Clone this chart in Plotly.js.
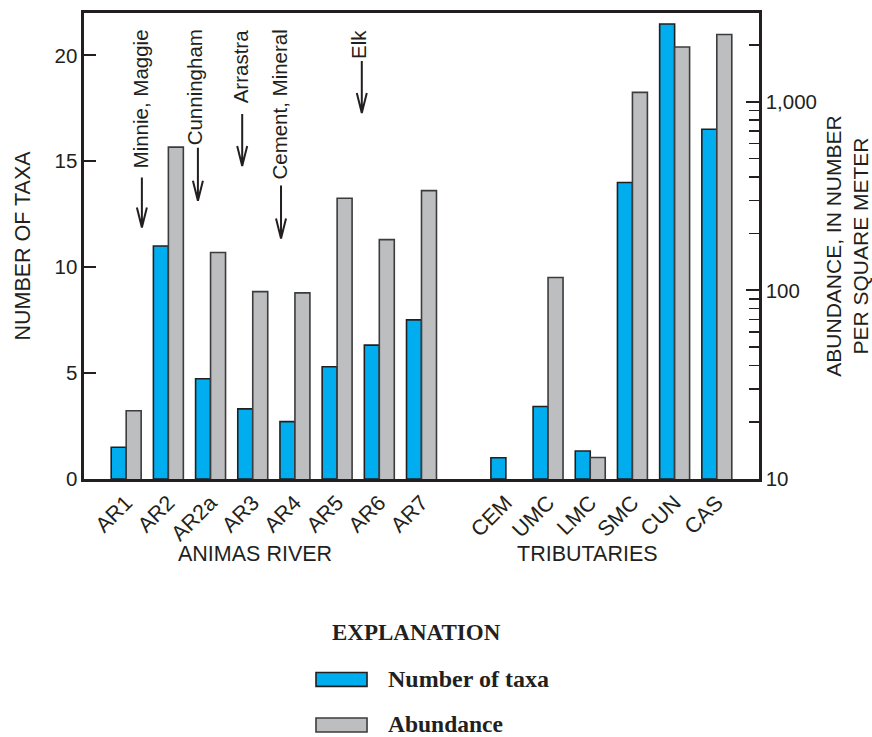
<!DOCTYPE html>
<html>
<head>
<meta charset="utf-8">
<script src="https://cdn.plot.ly/plotly-3.0.1.min.js"></script>
<style>
  html, body { margin: 0; padding: 0; background: #ffffff; }
  #chart { width: 872px; height: 737px; }
</style>
</head>
<body>
<div id="chart"></div>
<script>
// Sampling sites: Animas River main stem, then tributaries
const riverSites = ['AR1', 'AR2', 'AR2a', 'AR3', 'AR4', 'AR5', 'AR6', 'AR7'];
const tributarySites = ['CEM', 'UMC', 'LMC', 'SMC', 'CUN', 'CAS'];

// Number of taxa per site
const riverTaxa = [1.5, 11.0, 4.73, 3.31, 2.71, 5.3, 6.32, 7.51];
const tributaryTaxa = [1.0, 3.42, 1.32, 14.0, 21.48, 16.51];

// Abundance, in number per square meter (CEM has none)
const riverAbundance = [23, 575, 159, 98.5, 97, 308, 186, 338];
const tributaryAbundance = [null, 117, 13, 1122, 1954, 2275];

// Inflow labels along the main stem
const inflowLabels = ['Minnie, Maggie', 'Cunningham', 'Arrastra', 'Cement, Mineral', 'Elk'];

const INK = '#231f20';
const BLUE = '#00aeef';
const GREY = '#bcbec0';
const SANS = '"Liberation Sans", Arial, sans-serif';
const SERIF = '"Liberation Serif", "Times New Roman", serif';

// x positions: river sites 0..7, one empty slot, tributaries 9..14
const riverX = riverSites.map((_, i) => i);
const tributaryX = tributarySites.map((_, i) => i + riverSites.length + 1);
const siteX = riverX.concat(tributaryX);
const siteNames = riverSites.concat(tributarySites);
const taxa = riverTaxa.concat(tributaryTaxa);
const abundance = riverAbundance.concat(tributaryAbundance);

const BAR_W = 0.355;

const traces = [
  {
    type: 'bar', name: 'Number of taxa',
    x: siteX, y: taxa, yaxis: 'y',
    width: BAR_W, offset: -BAR_W,
    marker: { color: BLUE, line: { color: INK, width: 1.6 } },
    showlegend: false, hoverinfo: 'x+y'
  },
  {
    type: 'bar', name: 'Abundance',
    x: siteX, y: abundance, yaxis: 'y2',
    width: BAR_W, offset: 0,
    marker: { color: GREY, line: { color: '#3c3c3e', width: 1.6 } },
    showlegend: false, hoverinfo: 'x+y'
  }
];

// Inflow annotation geometry: text centre x, arrow x, arrow tip (taxa units), arrow length px
const inflowTextX = [0.33, 1.62, 2.71, 3.64, 5.51];
const inflowArrowX = [0.372, 1.70, 2.75, 3.67, 5.585];
const inflowArrowTip = [11.87, 13.14, 14.78, 11.35, 17.28];
const inflowArrowLen = [50, 53, 52, 53, 52];

const annotations = [];
const shapes = [];

inflowLabels.forEach((label, i) => {
  annotations.push({
    text: label, xref: 'x', yref: 'y',
    x: inflowTextX[i], y: 21.3,
    xanchor: 'center', yanchor: 'top',
    textangle: -90, showarrow: false,
    font: { family: SANS, size: 20.5, color: INK }
  });
  shapes.push({
    type: 'path', xref: 'x', yref: 'y',
    xsizemode: 'pixel', ysizemode: 'pixel',
    xanchor: inflowArrowX[i], yanchor: inflowArrowTip[i],
    path: 'M0,0 L0,' + inflowArrowLen[i] + ' M-5,20 L0,0 L5,20',
    line: { color: INK, width: 2 }
  });
});

// Group labels under the site names
annotations.push(
  { text: 'ANIMAS RIVER', xref: 'x', yref: 'paper', x: 3.06, y: -0.162,
    xanchor: 'center', yanchor: 'middle', showarrow: false,
    font: { family: SANS, size: 21.5, color: INK } },
  { text: 'TRIBUTARIES', xref: 'x', yref: 'paper', x: 10.94, y: -0.162,
    xanchor: 'center', yanchor: 'middle', showarrow: false,
    font: { family: SANS, size: 21.5, color: INK } }
);

// Explanation block
annotations.push(
  { text: '<b>EXPLANATION</b>', xref: 'paper', yref: 'paper', x: 0.493, y: -0.330,
    xanchor: 'center', yanchor: 'middle', showarrow: false,
    font: { family: SERIF, size: 23, color: INK } },
  { text: '<b>Number of taxa</b>', xref: 'paper', yref: 'paper', x: 0.4474, y: -0.430,
    xanchor: 'left', yanchor: 'middle', showarrow: false,
    font: { family: SERIF, size: 24, color: INK } },
  { text: '<b>Abundance</b>', xref: 'paper', yref: 'paper', x: 0.4474, y: -0.5255,
    xanchor: 'left', yanchor: 'middle', showarrow: false,
    font: { family: SERIF, size: 23.5, color: INK } }
);
shapes.push(
  { type: 'rect', xref: 'paper', yref: 'paper', x0: 0.3437, x1: 0.4193, y0: -0.4451, y1: -0.4151,
    fillcolor: BLUE, line: { color: INK, width: 1.6 } },
  { type: 'rect', xref: 'paper', yref: 'paper', x0: 0.3437, x1: 0.4193, y0: -0.5430, y1: -0.5130,
    fillcolor: GREY, line: { color: '#3c3c3e', width: 1.6 } }
);

// Minor ticks on the abundance axis
const minorAbundanceTicks = [];
[10, 100, 1000].forEach(d => { for (let m = 2; m <= 9; m++) minorAbundanceTicks.push(d * m); });

const layout = {
  width: 872, height: 737,
  margin: { l: 84, r: 113, t: 13, b: 258, pad: 0 },
  paper_bgcolor: '#ffffff', plot_bgcolor: '#ffffff',
  barmode: 'overlay',
  font: { family: SANS, color: INK, size: 20 },
  showlegend: false,
  xaxis: {
    range: [-1, 15],
    tickmode: 'array', tickvals: siteX, ticktext: siteNames,
    tickangle: -45, ticks: '', showgrid: false, zeroline: false,
    showline: true, linecolor: INK, linewidth: 2.6, mirror: true,
    tickfont: { family: SANS, size: 21.5, color: INK }
  },
  yaxis: {
    range: [0, 22],
    tickmode: 'array', tickvals: [0, 5, 10, 15, 20],
    ticks: 'inside', ticklen: 12, tickwidth: 2, tickcolor: INK,
    showgrid: false, zeroline: false,
    showline: true, linecolor: INK, linewidth: 2.6,
    tickfont: { family: SANS, size: 20.5, color: INK },
    title: { text: 'NUMBER OF TAXA', standoff: 18, font: { family: SANS, size: 21.5, color: INK } }
  },
  yaxis2: {
    type: 'log', overlaying: 'y', side: 'right',
    range: [1, 3.471],
    tickmode: 'array', tickvals: [10, 100, 1000], ticktext: ['10', '100', '1,000'],
    ticks: 'inside', ticklen: 13, tickwidth: 2, tickcolor: INK,
    minor: { tickmode: 'array', tickvals: minorAbundanceTicks, ticks: 'inside', ticklen: 10, tickwidth: 1.6, tickcolor: INK, showgrid: false },
    showgrid: false, zeroline: false,
    showline: true, linecolor: INK, linewidth: 2.6,
    tickfont: { family: SANS, size: 20.5, color: INK },
    title: { text: 'ABUNDANCE, IN NUMBER<br>PER SQUARE METER', standoff: 14, font: { family: SANS, size: 21, color: INK } }
  },
  annotations: annotations,
  shapes: shapes
};

Plotly.newPlot('chart', traces, layout, { displayModeBar: false, staticPlot: true });
</script>
</body>
</html>
